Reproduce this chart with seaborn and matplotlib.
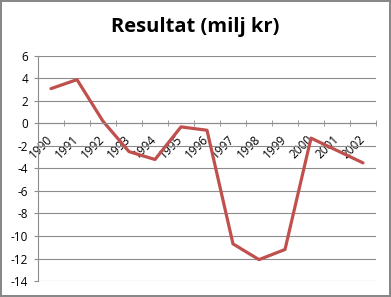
import matplotlib
matplotlib.use("Agg")
import matplotlib.pyplot as plt
import seaborn as sns
import pandas as pd

years = ["1990", "1991", "1992", "1993", "1994", "1995", "1996",
         "1997", "1998", "1999", "2000", "2001", "2002"]
resultat = [3.1, 3.9, 0.2, -2.5, -3.2, -0.3, -0.6,
            -10.7, -12.1, -11.2, -1.3, -2.4, -3.5]
yticks = [6, 4, 2, 0, -2, -4, -6, -8, -10, -12, -14]

df = pd.DataFrame({"year": years, "value": resultat})

sns.set_style("white")
plt.rcParams['font.family'] = ['Open Sans', 'DejaVu Sans']
plt.rcParams['text.color'] = 'black'
plt.rcParams['xtick.color'] = 'black'
plt.rcParams['ytick.color'] = 'black'

fig = plt.figure(figsize=(3.91, 2.97), dpi=100)
fig.patch.set_edgecolor("#888888")
fig.patch.set_linewidth(1.5)
ax = fig.add_axes([38/391, 16/297, 338/391, 225/297])

sns.lineplot(data=df, x="year", y="value", ax=ax, color="#C0504D",
             linewidth=2.3, sort=False)

ax.set_ylim(-14, 6)
ax.set_xlim(-0.5, len(years) - 0.5)
ax.set_yticks(yticks)
ax.set_yticklabels([str(v) for v in yticks], fontsize=8.5)
ax.yaxis.grid(True, color="#8c8c8c", linewidth=0.8)
ax.set_axisbelow(True)
ax.tick_params(axis="y", length=3, color="#8c8c8c", labelcolor="black",
               pad=4, left=True)

for s in ["top", "right"]:
    ax.spines[s].set_visible(False)
ax.spines["left"].set_color("#8c8c8c")
ax.spines["bottom"].set_color("#8c8c8c")
ax.spines["bottom"].set_position(("data", 0))

ax.set_xticks(range(len(years)))
ax.set_xticklabels(years, fontsize=8.5, rotation=45, ha="right", va="center",
                   rotation_mode="anchor")
ax.tick_params(axis="x", which="major", length=0, pad=10, labelcolor="black")
ax.set_xticks([i - 0.5 for i in range(len(years) + 1)], minor=True)
ax.tick_params(axis="x", which="minor", length=4, direction="inout",
               color="#8c8c8c", bottom=True)

ax.set_xlabel("")
ax.set_ylabel("")
fig.text(0.5, 1 - 27/297, "Resultat (milj kr)", ha="center", va="center",
         fontsize=14.5, fontweight="bold", color="black")

fig.savefig("out.png", dpi=100, edgecolor=fig.get_edgecolor())
